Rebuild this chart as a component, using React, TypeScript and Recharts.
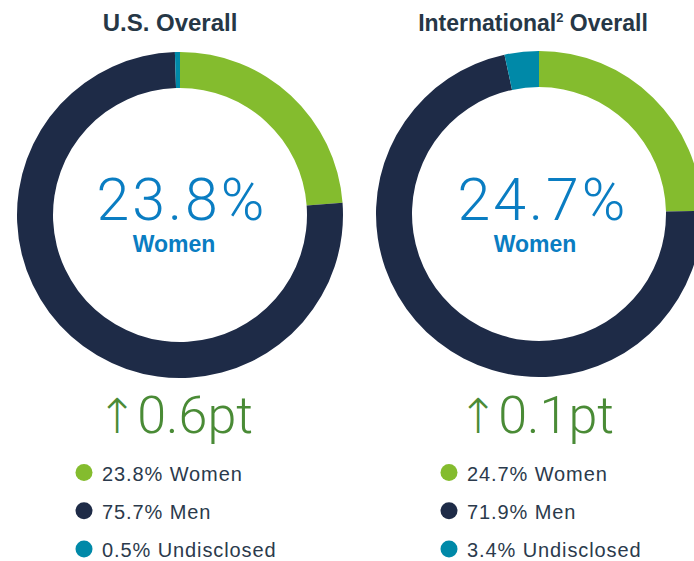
import React from "react";
import { PieChart, Pie, Cell } from "recharts";

const segmentNames = ["Women", "Men", "Undisclosed"];
const usValues = [23.8, 75.7, 0.5];
const intlValues = [24.7, 71.9, 3.4];
const segmentColors = ["#84BC2E", "#1E2B47", "#0089A8"];
const headlineValues = ["23.8%", "24.7%"];
const deltaValues = ["0.6pt", "0.1pt"];

const usData = segmentNames.map((name, i) => ({ name, value: usValues[i] }));
const intlData = segmentNames.map((name, i) => ({ name, value: intlValues[i] }));

const W = 694;
const H = 561;

const light = "Roboto, 'Liberation Sans', sans-serif";
const sans = "'Liberation Sans', Arial, sans-serif";

function Panel({ cx, cy, headline, delta, values, legendX, circleX }: any) {
  return (
    <g>
      <text x={cx + 2} y={cy + 6} textAnchor="middle" fontFamily={light} fontWeight={300} fontSize={59} fill="#0A7DC2" letterSpacing={3}>
        {headline}
      </text>
      <text x={cx - 6} y={cy + 38} textAnchor="middle" fontFamily={sans} fontWeight={700} fontSize={23} fill="#0A7DC2">
        Women
      </text>
      <text x={cx - 5} y={433} textAnchor="middle" fontFamily={light} fontWeight={300} fontSize={52} fill="#4A8B36">
        <tspan fontFamily="'DejaVu Sans', sans-serif" fontWeight={200} fontSize={48}>{"\u2191"}</tspan>
        {delta}
      </text>
      {segmentNames.map((n, i) => (
        <g key={n}>
          <circle cx={circleX} cy={472.5 + i * 38.2} r={8.5} fill={segmentColors[i]} />
          <text x={legendX} y={481 + i * 38} fontFamily={sans} fontSize={20} fill="#2B3A4C" letterSpacing={0.9}>
            {values[i].toFixed(1) + "% " + n}
          </text>
        </g>
      ))}
    </g>
  );
}

export default function App() {
  return (
    <div style={{ position: "fixed", left: 0, top: 0, width: W, height: H, background: "#fff", overflow: "hidden" }}>
      <PieChart width={W} height={H} margin={{ top: 0, right: 0, bottom: 0, left: 0 }}>
        <Pie data={usData} dataKey="value" cx={180} cy={215} innerRadius={127} outerRadius={163} startAngle={90} endAngle={-270} stroke="none" isAnimationActive={false}>
          {usData.map((d, i) => (
            <Cell key={d.name} fill={segmentColors[i]} />
          ))}
        </Pie>
        <Pie data={intlData} dataKey="value" cx={539} cy={214} innerRadius={127} outerRadius={163} startAngle={90} endAngle={-270} stroke="none" isAnimationActive={false}>
          {intlData.map((d, i) => (
            <Cell key={d.name} fill={segmentColors[i]} />
          ))}
        </Pie>
      </PieChart>
      <svg width={W} height={H} style={{ position: "absolute", left: 0, top: 0, pointerEvents: "none" }}>
        <text x={170} y={31} textAnchor="middle" fontFamily={sans} fontWeight={700} fontSize={24} fill="#263746">
          U.S. Overall
        </text>
        <text x={533} y={31} textAnchor="middle" fontFamily={sans} fontWeight={700} fontSize={23} fill="#263746">
          International<tspan fontSize={13} dy={-9}>2</tspan><tspan dy={9}> Overall</tspan>
        </text>
        <Panel cx={180} cy={214} headline={headlineValues[0]} delta={deltaValues[0]} values={usValues} legendX={102} circleX={84} />
        <Panel cx={541} cy={214} headline={headlineValues[1]} delta={deltaValues[1]} values={intlValues} legendX={467} circleX={449} />
      </svg>
    </div>
  );
}
